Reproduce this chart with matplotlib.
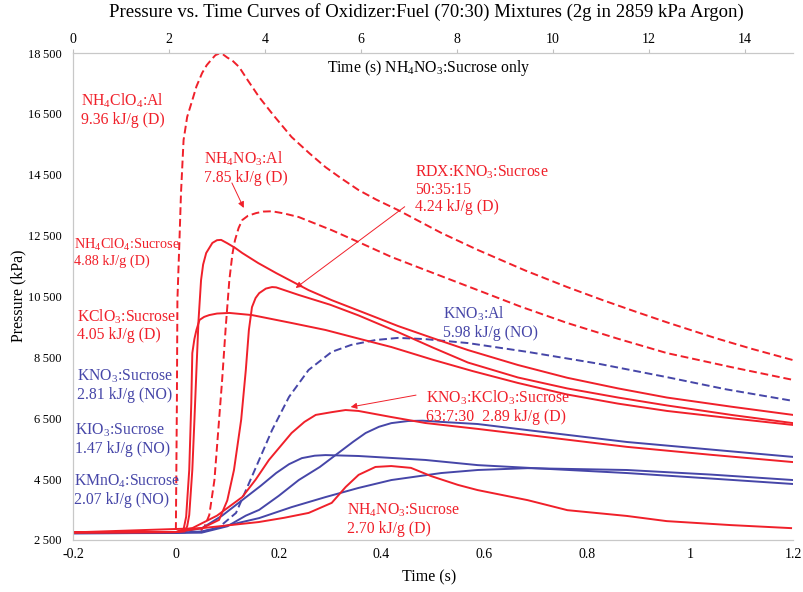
import numpy as np
import matplotlib.pyplot as plt

plt.rcParams['font.family'] = ['Liberation Serif', 'DejaVu Serif']
plt.rcParams['mathtext.fontset'] = 'custom'
plt.rcParams['mathtext.rm'] = 'Liberation Serif'
plt.rcParams['mathtext.it'] = 'Liberation Serif:italic'

RED = '#f0202a'
BLUE = '#4646a8'

# --- curves on the bottom time axis (s), pressure in kPa ---
nh4clo4_al_t = [-0.2, -0.1, 0.0, 0.002, 0.003, 0.007, 0.010, 0.015, 0.022, 0.032, 0.040, 0.051,
                0.060, 0.070, 0.077, 0.084, 0.092, 0.100, 0.110, 0.123, 0.140, 0.162, 0.190,
                0.225, 0.260, 0.291, 0.320, 0.355, 0.390, 0.432, 0.470, 0.516, 0.587, 0.680,
                0.761, 0.830, 0.896, 0.955, 1.050, 1.120, 1.2]
nh4clo4_al_p = [2740, 2745, 2760, 7000, 10380, 12350, 13900, 15640, 16400, 16950, 17400, 17840,
                18100, 18300, 18430, 18480, 18450, 18350, 18250, 18040, 17600, 17050, 16450,
                15740, 15200, 14750, 14400, 14000, 13680, 13340, 13000, 12590, 12030, 11350,
                10810, 10380, 9990, 9650, 9130, 8780, 8410]

nh4no3_al_t = [-0.2, 0.0, 0.046, 0.056, 0.065, 0.075, 0.082, 0.090, 0.097, 0.104, 0.110, 0.115,
               0.122, 0.129, 0.140, 0.156, 0.170, 0.187, 0.210, 0.239, 0.303, 0.355, 0.419,
               0.485, 0.587, 0.670, 0.761, 0.860, 0.955, 1.080, 1.2]
nh4no3_al_p = [2740, 2750, 2770, 2950, 3320, 4470, 6000, 7760, 9500, 11040, 11900, 12350,
               12750, 13010, 13150, 13240, 13290, 13300, 13230, 13110, 12680, 12290, 11800,
               11370, 10710, 10170, 9630, 9110, 8640, 8180, 7760]

nh4clo4_suc_t = [-0.2, 0.0, 0.017, 0.022, 0.026, 0.032, 0.036, 0.040, 0.044, 0.049, 0.053,
                 0.059, 0.071, 0.080, 0.088, 0.100, 0.115, 0.129, 0.160, 0.195, 0.258, 0.303,
                 0.370, 0.432, 0.500, 0.568, 0.665, 0.761, 0.860, 0.955, 1.080, 1.2]
nh4clo4_suc_p = [2750, 2760, 2780, 2950, 3320, 4800, 6400, 8080, 9700, 11040, 11550,
                 11930, 12260, 12350, 12360, 12250, 12100, 11930, 11600, 11270, 10710, 10380,
                 9940, 9530, 9130, 8740, 8250, 7830, 7480, 7180, 6880, 6610]

kclo3_suc_t = [-0.2, 0.0, 0.015, 0.020, 0.026, 0.030, 0.032, 0.036, 0.040, 0.046, 0.055,
               0.065, 0.080, 0.104, 0.148, 0.225, 0.291, 0.350, 0.419, 0.500, 0.577, 0.665,
               0.761, 0.860, 0.955, 1.080, 1.2]
kclo3_suc_p = [2750, 2760, 2850, 3260, 4800, 7000, 8640, 9100, 9400, 9730, 9830,
               9890, 9940, 9960, 9890, 9630, 9400, 9140, 8840, 8420, 8050, 7660,
               7280, 6980, 6740, 6500, 6280]

rdx_t = [-0.2, 0.0, 0.051, 0.084, 0.100, 0.113, 0.127, 0.136, 0.142, 0.148, 0.155, 0.162,
         0.175, 0.187, 0.195, 0.239, 0.300, 0.355, 0.432, 0.500, 0.568, 0.665, 0.761, 0.860,
         0.955, 1.080, 1.2]
rdx_p = [2750, 2760, 2890, 3160, 3800, 4800, 6450, 8080, 9400, 10150, 10450, 10610,
         10760, 10810, 10800, 10550, 10230, 9880, 9330, 8820, 8330, 7840, 7480, 7180,
         6920, 6610, 6340]

kno3_kclo3_t = [-0.2, 0.0, 0.032, 0.080, 0.129, 0.155, 0.181, 0.225, 0.250, 0.272, 0.303,
                0.330, 0.355, 0.419, 0.485, 0.587, 0.700, 0.877, 1.040, 1.2]
kno3_kclo3_p = [2750, 2760, 2890, 3300, 3910, 4480, 5130, 6015, 6380, 6610, 6700,
                6770, 6740, 6540, 6344, 6150, 5920, 5560, 5300, 5060]

kno3_al_t = [-0.2, 0.05, 0.084, 0.117, 0.156, 0.187, 0.220, 0.258, 0.303, 0.341, 0.388,
             0.432, 0.485, 0.568, 0.684, 0.819, 0.955, 1.070, 1.2]
kno3_al_p = [2740, 2760, 2920, 3390, 4900, 6110, 7200, 8085, 8680, 8910, 9070,
             9140, 9100, 8970, 8680, 8300, 7850, 7450, 7070]

kno3_suc_t = [-0.2, 0.05, 0.1, 0.136, 0.162, 0.200, 0.239, 0.280, 0.316, 0.345, 0.369,
              0.395, 0.419, 0.452, 0.480, 0.516, 0.587, 0.684, 0.877, 1.2]
kno3_suc_p = [2720, 2740, 2950, 3300, 3490, 3950, 4470, 4900, 5360, 5730, 6015,
              6220, 6340, 6410, 6420, 6380, 6310, 6110, 5720, 5230]

kio3_suc_t = [-0.2, 0.0, 0.051, 0.090, 0.129, 0.165, 0.195, 0.220, 0.245, 0.270, 0.291,
              0.355, 0.485, 0.587, 0.730, 0.877, 1.040, 1.2]
kio3_suc_p = [2730, 2740, 2890, 3300, 3810, 4280, 4700, 4990, 5190, 5270, 5290,
              5260, 5130, 4960, 4830, 4700, 4520, 4340]

kmno4_suc_t = [-0.2, 0.0, 0.05, 0.162, 0.225, 0.291, 0.355, 0.419, 0.516, 0.587, 0.684,
               0.877, 1.040, 1.2]
kmno4_suc_p = [2720, 2730, 2780, 3220, 3580, 3910, 4210, 4470, 4700, 4800, 4860,
               4800, 4650, 4470]

# --- NH4NO3:Sucrose on the top time axis (s) ---
nh4no3_suc_t = [0.0, 2.69, 3.87, 4.40, 4.91, 5.39, 5.68, 5.95, 6.30, 6.63, 7.04, 7.46, 8.02,
                8.43, 9.47, 10.30, 11.54, 12.37, 13.70, 14.96]
nh4no3_suc_p = [2750, 2890, 3090, 3230, 3390, 3720, 4240, 4640, 4900, 4930, 4870, 4600, 4310,
                4140, 3810, 3480, 3290, 3120, 2990, 2890]

bottom_ticks = [-0.2, 0.0, 0.2, 0.4, 0.6, 0.8, 1.0, 1.2]
bottom_labels = ['-0.2', '0', '0.2', '0.4', '0.6', '0.8', '1', '1.2']
top_ticks = [0, 2, 4, 6, 8, 10, 12, 14]
y_ticks = [2500, 4500, 6500, 8500, 10500, 12500, 14500, 16500, 18500]

fig = plt.figure(figsize=(8.04, 5.92), dpi=100)
ax = fig.add_axes([73 / 804, 52 / 592, 720 / 804, 487 / 592])
ax.set_xlim(-0.2, 1.2)
ax.set_ylim(2500, 18500)

lw = 1.4
dash = (4, 2)
ax.plot(nh4clo4_al_t, nh4clo4_al_p, color=RED, lw=lw, dashes=dash)
ax.plot(nh4no3_al_t, nh4no3_al_p, color=RED, lw=lw, dashes=dash)
ax.plot(kno3_al_t, kno3_al_p, color=BLUE, lw=lw, dashes=dash)
for t, p in [(kno3_suc_t, kno3_suc_p), (kio3_suc_t, kio3_suc_p), (kmno4_suc_t, kmno4_suc_p)]:
    ax.plot(t, p, color=BLUE, lw=lw)
for t, p in [(nh4clo4_suc_t, nh4clo4_suc_p), (kclo3_suc_t, kclo3_suc_p),
             (rdx_t, rdx_p), (kno3_kclo3_t, kno3_kclo3_p)]:
    ax.plot(t, p, color=RED, lw=lw)

ax.set_xticks(bottom_ticks)
ax.set_xticklabels(bottom_labels)
ax.set_yticks(y_ticks)
ax.set_yticklabels([f'{v // 1000}\u2009{v % 1000:03d}' for v in y_ticks])
ax.tick_params(axis='x', length=0, labelsize=10, pad=6)
ax.tick_params(axis='y', length=0, labelsize=9, pad=8)

ax2 = ax.twiny()
ax2.set_xlim(0, 15)
ax2.plot(nh4no3_suc_t, nh4no3_suc_p, color=RED, lw=lw)
ax2.set_xticks(top_ticks)
ax2.tick_params(axis='x', length=3, color='#c0c0c0', labelsize=10, pad=2)

for a in (ax, ax2):
    for side in ('left', 'bottom', 'top'):
        a.spines[side].set_color('#c8c8c8')
    a.spines['right'].set_visible(False)

fs = 11.3
labels = [
    (-0.185, 17220, 'NH$_4$ClO$_4$:Al\n9.36 kJ/g (D)', RED, fs),
    (0.055, 15310, 'NH$_4$NO$_3$:Al\n7.85 kJ/g (D)', RED, fs),
    (-0.199, 12450, 'NH$_4$ClO$_4$:Sucrose\n4.88 kJ/g (D)', RED, 10.3),
    (-0.192, 10150, 'KClO$_3$:Sucrose\n4.05 kJ/g (D)', RED, fs),
    (-0.192, 8150, 'KNO$_3$:Sucrose\n2.81 kJ/g (NO)', BLUE, fs),
    (-0.196, 6380, 'KIO$_3$:Sucrose\n1.47 kJ/g (NO)', BLUE, fs),
    (-0.199, 4700, 'KMnO$_4$:Sucrose\n2.07 kJ/g (NO)', BLUE, fs),
    (0.465, 14880, 'RDX:KNO$_3$:Sucrose\n50:35:15\n4.24 kJ/g (D)', RED, fs),
    (0.519, 10220, 'KNO$_3$:Al\n5.98 kJ/g (NO)', BLUE, fs),
    (0.487, 7460, 'KNO$_3$:KClO$_3$:Sucrose\n63:7:30  2.89 kJ/g (D)', RED, fs),
    (0.332, 3750, 'NH$_4$NO$_3$:Sucrose\n2.70 kJ/g (D)', RED, fs),
]
for x, y, s, c, size in labels:
    ax.text(x, y, s, color=c, fontsize=size, ha='left', va='top', linespacing=1.1)

arrows = [((0.132, 13410), (0.109, 14230)),
          ((0.233, 10780), (0.445, 13450)),
          ((0.340, 6870), (0.467, 7260))]
for head, tail in arrows:
    ax.annotate('', xy=head, xytext=tail,
                arrowprops=dict(arrowstyle='-|>', color=RED, lw=0.7, mutation_scale=9,
                                shrinkA=0, shrinkB=0))

ax.text(0.293, 18330, 'Time (s) NH$_4$NO$_3$:Sucrose only', fontsize=11.3, ha='left', va='top')

fig.text(426 / 804, 1 - 12 / 592,
         'Pressure vs. Time Curves of Oxidizer:Fuel (70:30) Mixtures (2g in 2859 kPa Argon)',
         ha='center', va='center', fontsize=13.5)
fig.text(18 / 804, 1 - 296 / 592, 'Pressure (kPa)', rotation=90, ha='center', va='center',
         fontsize=11.5)
fig.text(429 / 804, 1 - 577 / 592, 'Time (s)', ha='center', va='center', fontsize=11.5)

fig.savefig('out.png', dpi=100)
